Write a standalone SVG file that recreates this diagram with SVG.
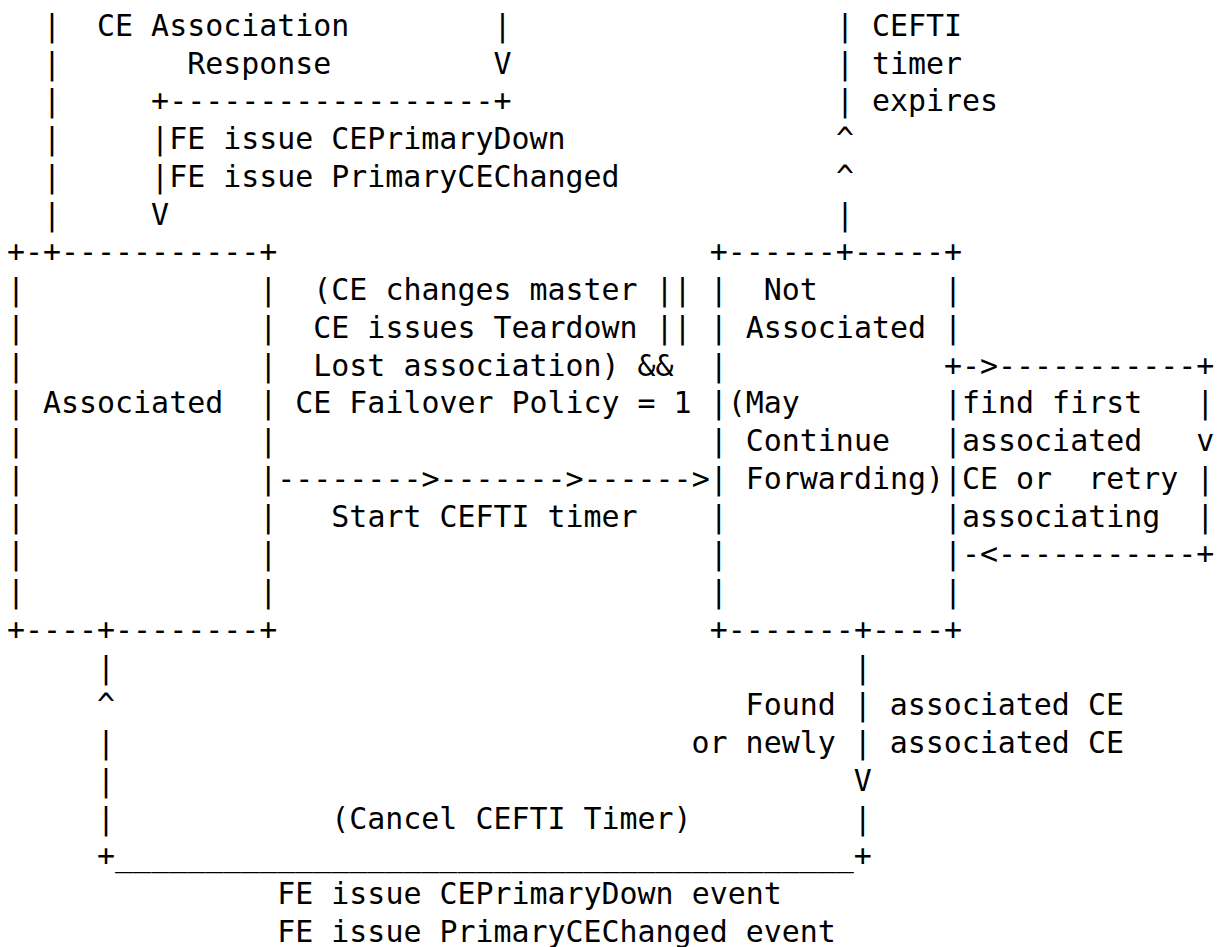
<svg xmlns="http://www.w3.org/2000/svg" width="1226" height="947" viewBox="0 0 1226 947" xml:space="preserve">
<style>
.t { font-family: "DejaVu Sans Mono", "Liberation Mono", monospace; font-size: 29.93px; fill: #000; white-space: pre; }
</style>
<rect x="0" y="0" width="1226" height="947" fill="#fff"/>
<g id="node-associated">
<text class="t" x="7" y="262.44">+-+-----------+</text>
<text class="t" x="7" y="300.18">|             |</text>
<text class="t" x="7" y="337.92">|             |</text>
<text class="t" x="7" y="375.66">|             |</text>
<text class="t" x="7" y="413.4">| Associated  |</text>
<text class="t" x="7" y="451.14">|             |</text>
<text class="t" x="7" y="488.88">|             |</text>
<text class="t" x="7" y="526.62">|             |</text>
<text class="t" x="7" y="564.36">|             |</text>
<text class="t" x="7" y="602.1">|             |</text>
<text class="t" x="7" y="639.84">+----+--------+</text>
</g>
<g id="node-not-associated">
<text class="t" x="709.78" y="262.44">+------+-----+</text>
<text class="t" x="709.78" y="300.18">|  Not       |</text>
<text class="t" x="709.78" y="337.92">| Associated |</text>
<text class="t" x="709.78" y="375.66">|</text>
<text class="t" x="709.78" y="413.4">|(May        |</text>
<text class="t" x="709.78" y="451.14">| Continue   |</text>
<text class="t" x="709.78" y="488.88">| Forwarding)|</text>
<text class="t" x="709.78" y="526.62">|            |</text>
<text class="t" x="709.78" y="564.36">|            |</text>
<text class="t" x="709.78" y="602.1">|            |</text>
<text class="t" x="709.78" y="639.84">+-------+----+</text>
</g>
<g id="connectors">
<g id="conn-association-response">
<text class="t" x="7" y="36">  |  CE Association        |</text>
<text class="t" x="7" y="73.74">  |       Response         V</text>
<text class="t" x="7" y="111.48">  |     +------------------+</text>
<text class="t" x="7" y="149.22">  |     |FE issue CEPrimaryDown</text>
<text class="t" x="7" y="186.96">  |     |FE issue PrimaryCEChanged</text>
<text class="t" x="7" y="224.7">  |     V</text>
</g>
<g id="conn-cefti-expires">
<text class="t" x="835.92" y="36">| CEFTI</text>
<text class="t" x="835.92" y="73.74">| timer</text>
<text class="t" x="835.92" y="111.48">| expires</text>
<text class="t" x="835.92" y="149.22">^</text>
<text class="t" x="835.92" y="186.96">^</text>
<text class="t" x="835.92" y="224.7">|</text>
</g>
<g id="conn-failover">
<text class="t" x="313.34" y="300.18">(CE changes master ||</text>
<text class="t" x="313.34" y="337.92">CE issues Teardown ||</text>
<text class="t" x="313.34" y="375.66">Lost association) &amp;&amp;</text>
<text class="t" x="295.32" y="413.4">CE Failover Policy = 1</text>
<text class="t" x="277.3" y="488.88">-------->------->------></text>
<text class="t" x="331.36" y="526.62">Start CEFTI timer</text>
</g>
<g id="conn-find-loop">
<text class="t" x="944.04" y="375.66">+->-----------+</text>
<text class="t" x="962.06" y="413.4">find first   |</text>
<text class="t" x="962.06" y="451.14">associated   v</text>
<text class="t" x="962.06" y="488.88">CE or  retry |</text>
<text class="t" x="962.06" y="526.62">associating  |</text>
<text class="t" x="962.06" y="564.36">-&lt;-----------+</text>
</g>
<g id="conn-found">
<text class="t" x="97.1" y="677.58">|                                         |</text>
<text class="t" x="97.1" y="715.32">^                                   Found | associated CE</text>
<text class="t" x="97.1" y="753.06">|                                or newly | associated CE</text>
<text class="t" x="97.1" y="790.8">|                                         V</text>
<text class="t" x="97.1" y="828.54">|            (Cancel CEFTI Timer)         |</text>
<text class="t" x="97.1" y="866.28">+_________________________________________+</text>
<text class="t" x="277.3" y="904.02">FE issue CEPrimaryDown event</text>
<text class="t" x="277.3" y="941.76">FE issue PrimaryCEChanged event</text>
</g>
</g>
</svg>
